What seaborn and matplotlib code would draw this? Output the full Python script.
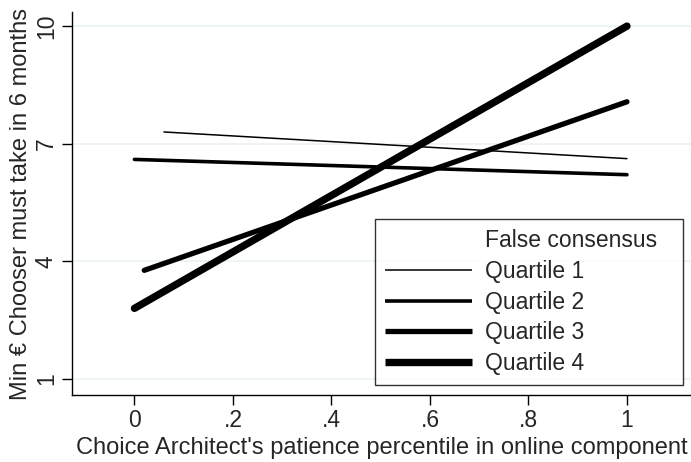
import pandas as pd
import seaborn as sns
import matplotlib.pyplot as plt
from matplotlib.lines import Line2D

# fitted lines: start/end x and y per quartile
quartiles = ["Quartile 1", "Quartile 2", "Quartile 3", "Quartile 4"]
x_start = [0.06, 0.0, 0.02, 0.0]
x_end = [1.0, 1.0, 1.0, 1.0]
y_start = [7.30, 6.60, 3.77, 2.80]
y_end = [6.62, 6.21, 8.07, 10.0]
widths = [1.1, 2.6, 3.8, 5.3]

rows = []
for q, xs, xe, ys, ye in zip(quartiles, x_start, x_end, y_start, y_end):
    rows.append({"group": q, "x": xs, "y": ys})
    rows.append({"group": q, "x": xe, "y": ye})
df = pd.DataFrame(rows)

sns.set_style("white")
plt.rcParams["font.family"] = ["Liberation Sans", "DejaVu Sans"]

fig = plt.figure(figsize=(6.91, 4.62), dpi=100)
ax = fig.add_axes([0.104, 0.145, 0.896, 0.829])

for y in [1, 4, 7, 10]:
    ax.axhline(y, color="#eaf2f3", lw=1.2, zorder=0)

handles = [Line2D([], [], lw=0, label="False consensus")]
for q, lw in zip(quartiles, widths):
    sns.lineplot(data=df[df["group"] == q], x="x", y="y", color="black",
                 lw=lw, solid_capstyle="round", ax=ax)
    handles.append(Line2D([], [], color="black", lw=lw, solid_capstyle="butt", label=q))

ax.set_xlim(-0.127, 1.13)
ax.set_ylim(0.59, 10.36)
ax.set_xticks([0, 0.2, 0.4, 0.6, 0.8, 1])
ax.set_xticklabels(["0", ".2", ".4", ".6", ".8", "1"])
ax.set_yticks([1, 4, 7, 10])
ax.set_yticklabels(["1", "4", "7", "10"], rotation=90, va="center")
ax.tick_params(axis="both", direction="out", length=7, width=1, labelsize=16.5,
               bottom=True, left=True, color="black", pad=3)
for s in ["top", "right"]:
    ax.spines[s].set_visible(False)
for s in ["left", "bottom"]:
    ax.spines[s].set_color("black")
    ax.spines[s].set_linewidth(1)

ax.set_xlabel("Choice Architect's patience percentile in online component", fontsize=17, labelpad=4)
ax.set_ylabel("Min € Chooser must take in 6 months", fontsize=17, labelpad=2)

leg = ax.legend(handles=handles, loc="lower left",
                bbox_to_anchor=(0.4895, 0.026, 0.4976, 0.436), mode="expand",
                fontsize=16.5, frameon=True, fancybox=False, handlelength=3.8,
                handletextpad=0.57, labelspacing=0.33, borderpad=0.45, borderaxespad=0)
leg.get_frame().set_edgecolor("black")
leg.get_frame().set_linewidth(1)

fig.savefig("out.png", dpi=100)
